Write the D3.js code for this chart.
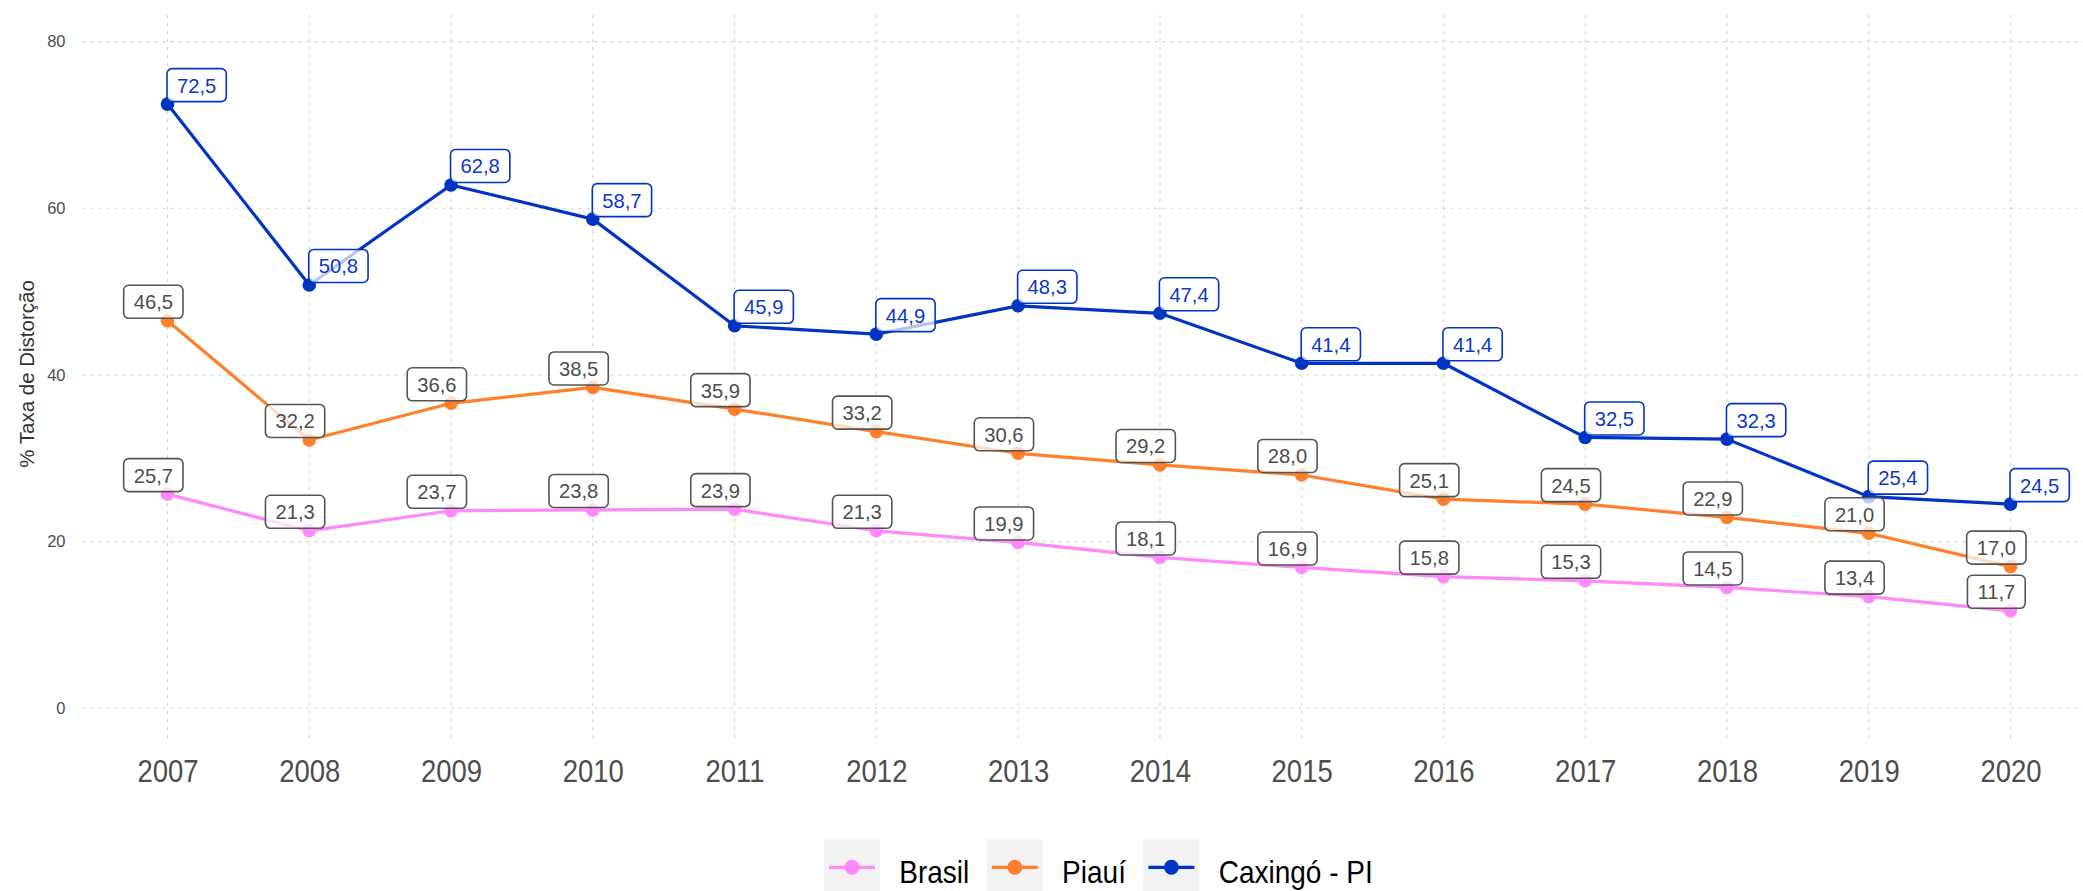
<!DOCTYPE html>
<html>
<head>
<meta charset="utf-8">
<script src="https://cdn.jsdelivr.net/npm/d3@7"></script>
<style>
  html, body { margin: 0; padding: 0; background: #ffffff; }
  svg { display: block; font-family: "Liberation Sans", Arial, Helvetica, sans-serif; }
</style>
</head>
<body>
<svg id="chart" width="2083" height="891"></svg>
<script>
// Taxa de distorção idade-série (%), 2007–2020
const years = ["2007","2008","2009","2010","2011","2012","2013","2014","2015","2016","2017","2018","2019","2020"];
const brasil  = [25.7, 21.3, 23.7, 23.8, 23.9, 21.3, 19.9, 18.1, 16.9, 15.8, 15.3, 14.5, 13.4, 11.7];
const piaui   = [46.5, 32.2, 36.6, 38.5, 35.9, 33.2, 30.6, 29.2, 28.0, 25.1, 24.5, 22.9, 21.0, 17.0];
const caxingo = [72.5, 50.8, 62.8, 58.7, 45.9, 44.9, 48.3, 47.4, 41.4, 41.4, 32.5, 32.3, 25.4, 24.5];
const seriesNames = ["Brasil", "Piauí", "Caxingó - PI"];
const yTicks = [0, 20, 40, 60, 80];

const colors = { "Brasil": "#ff88fb", "Piauí": "#ff7f2a", "Caxingó - PI": "#0034c3" };

const series = [
  { name: "Brasil", values: brasil, local: false },
  { name: "Piauí", values: piaui, local: false },
  { name: "Caxingó - PI", values: caxingo, local: true }
];

const svg = d3.select("#chart");

const panel = { left: 82.5, right: 2083, top: 15, bottom: 742 };

const x = d3.scalePoint().domain(years).range([167.5, 2010.5]);
const y = d3.scaleLinear().domain([0, 80]).range([708.3, 41.6]);
const step = x.step();

// grid
const grid = svg.append("g").attr("class", "grid")
  .attr("stroke", "#d2d2d2").attr("stroke-width", 1.1).attr("stroke-dasharray", "3,5");
grid.selectAll("line.h").data(yTicks).join("line").attr("class", "h")
  .attr("x1", panel.left).attr("x2", panel.right)
  .attr("y1", d => y(d)).attr("y2", d => y(d));
grid.selectAll("line.v").data(years).join("line").attr("class", "v")
  .attr("x1", d => x(d)).attr("x2", d => x(d))
  .attr("y1", panel.top).attr("y2", panel.bottom);

// axes
const yAxis = svg.append("g")
  .attr("transform", `translate(${panel.left},0)`)
  .call(d3.axisLeft(y).tickValues(yTicks).tickSize(0).tickPadding(17).tickFormat(d3.format("d")));
yAxis.select(".domain").remove();
yAxis.selectAll("text").attr("font-size", 16.5).attr("fill", "#4d4d4d")
  .style("font-family", "'Liberation Sans', Arial, sans-serif");

const xAxis = svg.append("g")
  .attr("transform", `translate(0,${panel.bottom})`)
  .call(d3.axisBottom(x).tickSize(0).tickPadding(18));
xAxis.select(".domain").remove();
xAxis.selectAll("text")
  .attr("font-size", 27.5).attr("fill", "#4d4d4d")
  .attr("y", 0).attr("dy", 0)
  .attr("transform", "translate(0,39.7) scale(1,1.14)")
  .style("font-family", "'Liberation Sans', Arial, sans-serif");

// y axis title
svg.append("text")
  .attr("transform", `translate(34,374) rotate(-90)`)
  .attr("text-anchor", "middle")
  .attr("font-size", 20.5).attr("fill", "#333333")
  .text("% Taxa de Distorção");

// lines and points
const line = d3.line().x((d, i) => x(years[i])).y(d => y(d));
const marks = svg.append("g");
series.forEach(s => {
  marks.append("path")
    .datum(s.values)
    .attr("d", line)
    .attr("fill", "none")
    .attr("stroke", colors[s.name])
    .attr("stroke-width", 3.2)
    .attr("stroke-linejoin", "round");
});
series.forEach(s => {
  marks.selectAll(null).data(s.values).join("circle")
    .attr("cx", (d, i) => x(years[i]))
    .attr("cy", d => y(d))
    .attr("r", 6.8)
    .attr("fill", colors[s.name]);
});

// value labels
const fmt = v => v.toFixed(1).replace(".", ",");
const labels = svg.append("g");
const boxH = 33;
series.forEach(s => {
  const stroke = s.local ? colors[s.name] : "#555555";
  const txtCol = s.local ? "#0a38c8" : "#4d4d4d";
  s.values.forEach((v, i) => {
    const px = x(years[i]), py = y(v);
    const g = labels.append("g");
    const t = g.append("text")
      .attr("font-size", 20.2)
      .attr("fill", txtCol)
      .attr("text-anchor", "middle")
      .text(fmt(v));
    const w = t.node().getComputedTextLength() + 20;
    const cx = s.local ? px - 0.5 + w / 2 : px - step * 0.1;
    const bottom = py - 2.5;
    g.insert("rect", "text")
      .attr("x", cx - w / 2).attr("y", bottom - boxH)
      .attr("width", w).attr("height", boxH)
      .attr("rx", 5).attr("ry", 5)
      .attr("fill", "#ffffff").attr("fill-opacity", 0.72)
      .attr("stroke", stroke).attr("stroke-width", 1.6);
    t.attr("x", cx).attr("y", bottom - boxH / 2 + 7.4);
  });
});

// legend
const legend = svg.append("g");
const keyW = 56, keyTop = 839.3;
let lx = 824;
seriesNames.forEach(name => {
  const g = legend.append("g");
  g.append("rect").attr("x", lx).attr("y", keyTop).attr("width", keyW).attr("height", keyW)
    .attr("fill", "#f2f2f2");
  const cy = keyTop + 28;
  g.append("line").attr("x1", lx + 5).attr("x2", lx + keyW - 5).attr("y1", cy).attr("y2", cy)
    .attr("stroke", colors[name]).attr("stroke-width", 3.2);
  g.append("circle").attr("cx", lx + keyW / 2).attr("cy", cy).attr("r", 7.5).attr("fill", colors[name]);
  const tx = lx + keyW + 19.3;
  const t = g.append("text")
    .attr("transform", `translate(${tx},882.5) scale(1,1.14)`)
    .attr("font-size", 28).attr("fill", "#000000").text(name);
  lx = tx + t.node().getComputedTextLength() + 17.5;
});
</script>
</body>
</html>
